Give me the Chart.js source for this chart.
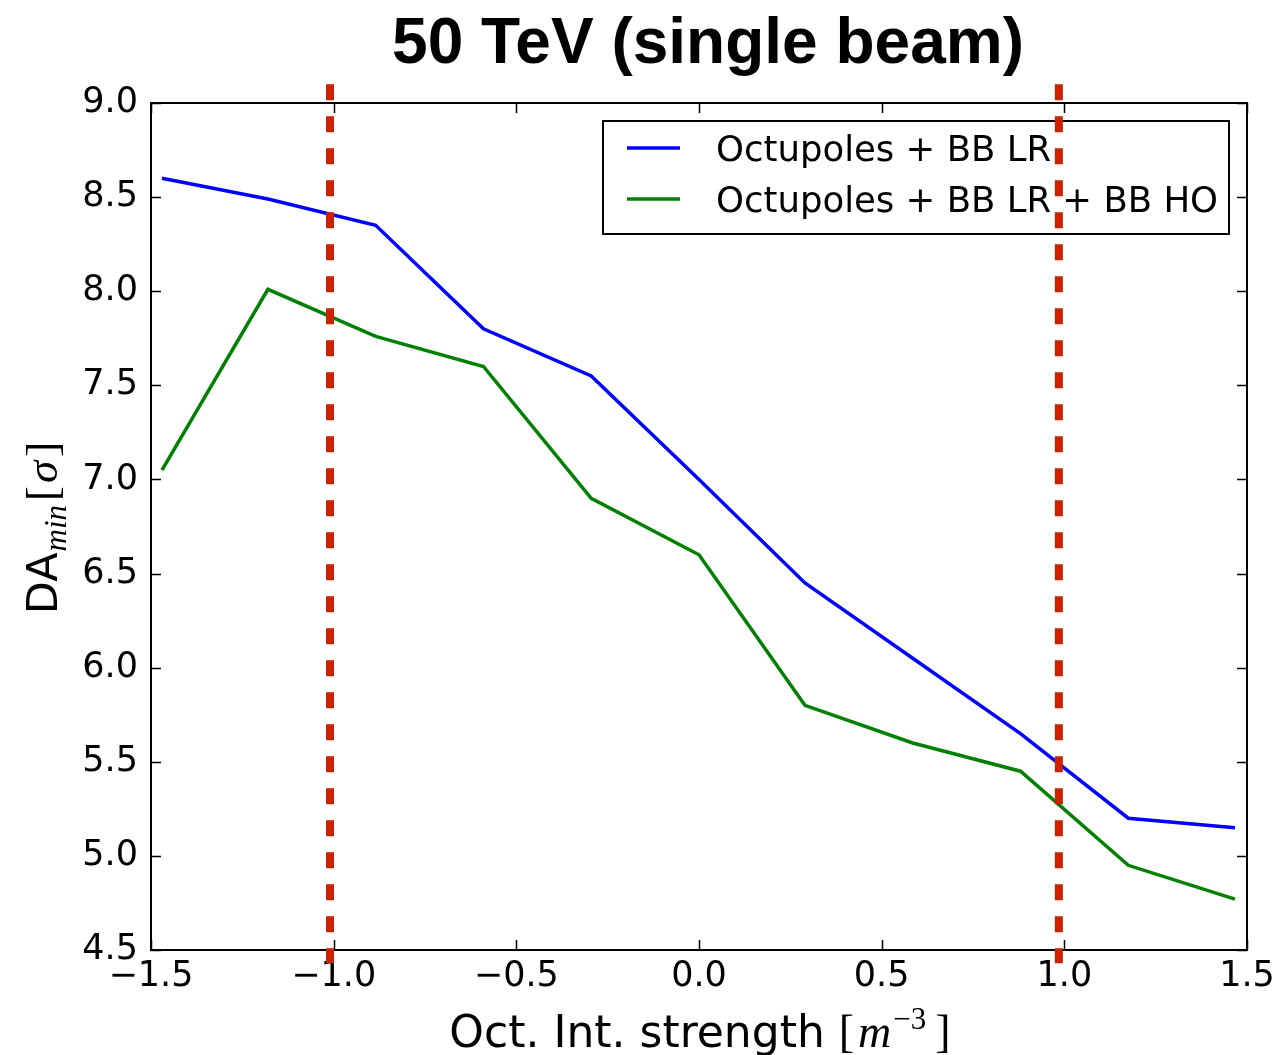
<!DOCTYPE html>
<html><head><meta charset="utf-8">
<script src="https://cdn.jsdelivr.net/npm/chart.js@4.4.1/dist/chart.umd.min.js"></script>
<style>html,body{margin:0;padding:0;background:#fff;}#wrap{width:1277px;height:1055px;position:relative;}</style>
</head><body><div id="wrap"><canvas id="c" width="1277" height="1055"></canvas></div>
<script>
// ---- data ----
const xValues = [-1.47, -1.18, -0.885, -0.59, -0.295, 0.00, 0.29, 0.585, 0.88, 1.175, 1.467];
const lrValues = [8.60, 8.49, 8.35, 7.80, 7.55, 7.00, 6.45, 6.05, 5.65, 5.20, 5.15];
const lrHoValues = [7.05, 8.01, 7.76, 7.60, 6.90, 6.60, 5.80, 5.60, 5.45, 4.95, 4.77];
const seriesLabels = ['Octupoles + BB LR', 'Octupoles + BB LR + BB HO'];
const seriesColors = ['#0000ff', '#008000'];
const markerX = [-1.01, 0.985];
const markerYRange = [9.10, 4.43];
const xTicks = [-1.5, -1.0, -0.5, 0.0, 0.5, 1.0, 1.5];
const yTicks = [4.5, 5.0, 5.5, 6.0, 6.5, 7.0, 7.5, 8.0, 8.5, 9.0];
const titleText = '50 TeV (single beam)';

const fmt = v => { const s = Math.abs(v).toFixed(1); return (v < -1e-9 ? '\u2212' : '') + s; };

function drawLegend(chart) {
  const ctx = chart.ctx, ca = chart.chartArea;
  const right = ca.right - 18, top = ca.top + 18, w = 626, h = 113;
  const left = right - w;
  ctx.save();
  ctx.fillStyle = '#fff';
  ctx.fillRect(left, top, w, h);
  ctx.strokeStyle = '#000'; ctx.lineWidth = 2;
  ctx.strokeRect(left, top, w, h);
  ctx.font = '35.5px "DejaVu Sans"';
  ctx.textBaseline = 'alphabetic'; ctx.textAlign = 'left';
  seriesLabels.forEach((lab, i) => {
    const y = top + 27 + i * 51;
    ctx.strokeStyle = seriesColors[i]; ctx.lineWidth = 3.5;
    ctx.beginPath(); ctx.moveTo(left + 24, y); ctx.lineTo(left + 77, y); ctx.stroke();
    ctx.fillStyle = '#000';
    ctx.fillText(lab, left + 113, y + 13);
  });
  ctx.restore();
}

const framePlugin = {
  id: 'frame',
  beforeDatasetsDraw(chart) {
    const ctx = chart.ctx, ca = chart.chartArea;
    const xs = chart.scales.x, ys = chart.scales.y;
    ctx.save();
    ctx.strokeStyle = '#000'; ctx.lineWidth = 1.5;
    xTicks.forEach(v => {
      const px = Math.round(xs.getPixelForValue(v)) + 0.5;
      ctx.beginPath();
      ctx.moveTo(px, ca.bottom); ctx.lineTo(px, ca.bottom - 10);
      ctx.moveTo(px, ca.top); ctx.lineTo(px, ca.top + 10);
      ctx.stroke();
    });
    yTicks.forEach(v => {
      const py = Math.round(ys.getPixelForValue(v)) + 0.5;
      ctx.beginPath();
      ctx.moveTo(ca.left, py); ctx.lineTo(ca.left + 10, py);
      ctx.moveTo(ca.right, py); ctx.lineTo(ca.right - 10, py);
      ctx.stroke();
    });
    ctx.lineWidth = 2;
    ctx.strokeRect(ca.left, ca.top, ca.right - ca.left, ca.bottom - ca.top);
    ctx.restore();
  },
  afterDatasetDraw(chart, args) {
    if (chart.data.datasets[args.index].label === seriesLabels[1]) drawLegend(chart);
  },
  afterDraw(chart) {
    const ctx = chart.ctx, ca = chart.chartArea;
    ctx.save();
    ctx.fillStyle = '#000';
    // title
    ctx.font = 'bold 64px "Liberation Sans"';
    ctx.textAlign = 'center'; ctx.textBaseline = 'alphabetic';
    ctx.fillText(titleText, 708, 63);
    // x title
    ctx.textAlign = 'left';
    const parts = [
      {t: 'Oct. Int. strength ', f: '44px "DejaVu Sans"', dy: 0},
      {t: '[', f: '46px "Liberation Serif"', dy: 0},
      {t: 'm', f: 'italic 46px "Liberation Serif"', dy: 0, pad: 4},
      {t: '\u22123', f: '31px "Liberation Serif"', dy: -18, pad: 2},
      {t: ']', f: '46px "Liberation Serif"', dy: 0, pad: 9}
    ];
    let tot = 0;
    parts.forEach(p => { ctx.font = p.f; p.w = ctx.measureText(p.t).width; tot += p.w + (p.pad || 0); });
    let x = 700 - tot / 2;
    parts.forEach(p => { x += (p.pad || 0); ctx.font = p.f; ctx.fillText(p.t, x, 1047 + p.dy); x += p.w; });
    // y title
    const yparts = [
      {t: 'DA', f: '43px "DejaVu Sans"', dy: 0},
      {t: 'min', f: 'italic 31px "Liberation Serif"', dy: 9, pad: 1},
      {t: '[', f: '45px "Liberation Serif"', dy: 0, pad: 4},
      {t: '\u03c3', f: 'italic 45px "Liberation Serif"', dy: 0, pad: 3},
      {t: ']', f: '45px "Liberation Serif"', dy: 0, pad: 4}
    ];
    tot = 0;
    yparts.forEach(p => { ctx.font = p.f; p.w = ctx.measureText(p.t).width; tot += p.w + (p.pad || 0); });
    ctx.translate(57, 528);
    ctx.rotate(-Math.PI / 2);
    x = -tot / 2;
    yparts.forEach(p => { x += (p.pad || 0); ctx.font = p.f; ctx.fillText(p.t, x, p.dy); x += p.w; });
    ctx.restore();
  }
};

const toPts = (xs, ys) => xs.map((x, i) => ({x, y: ys[i]}));
const markerSets = markerX.map((mx, i) => ({
  label: 'marker' + i,
  data: markerYRange.map(y => ({x: mx, y})),
  showLine: true, borderColor: '#cc2200', borderWidth: 8, borderDash: [16, 16],
  borderCapStyle: 'butt', pointRadius: 0, clip: false, order: 0
}));

new Chart(document.getElementById('c').getContext('2d'), {
  type: 'scatter',
  data: {
    datasets: [
      ...markerSets,
      {label: seriesLabels[0], data: toPts(xValues, lrValues), showLine: true, borderColor: seriesColors[0], borderWidth: 3.5, pointRadius: 0, order: 2},
      {label: seriesLabels[1], data: toPts(xValues, lrHoValues), showLine: true, borderColor: seriesColors[1], borderWidth: 3.5, pointRadius: 0, order: 1}
    ]
  },
  options: {
    responsive: false, animation: false, devicePixelRatio: 1,
    layout: {padding: {top: 103, right: 30, left: 0, bottom: 0}},
    plugins: {legend: {display: false}, tooltip: {enabled: false}, title: {display: false}},
    scales: {
      x: {
        type: 'linear', min: -1.5, max: 1.5,
        afterBuildTicks: s => { s.ticks = xTicks.map(v => ({value: v})); },
        ticks: {callback: v => fmt(v), font: {family: 'DejaVu Sans', size: 35}, color: '#000', padding: 6, maxRotation: 0, autoSkip: false},
        grid: {display: false, drawTicks: false}, border: {display: false},
        afterFit: s => { s.height = 105; s.paddingLeft = 0; s.paddingRight = 0; }
      },
      y: {
        type: 'linear', min: 4.5, max: 9.0,
        afterBuildTicks: s => { s.ticks = yTicks.map(v => ({value: v})); },
        ticks: {callback: v => fmt(v), font: {family: 'DejaVu Sans', size: 35}, color: '#000', padding: 13, autoSkip: false},
        grid: {display: false, drawTicks: false}, border: {display: false},
        afterFit: s => { s.width = 151; s.paddingTop = 0; s.paddingBottom = 0; }
      }
    }
  },
  plugins: [framePlugin]
});
</script></body></html>
